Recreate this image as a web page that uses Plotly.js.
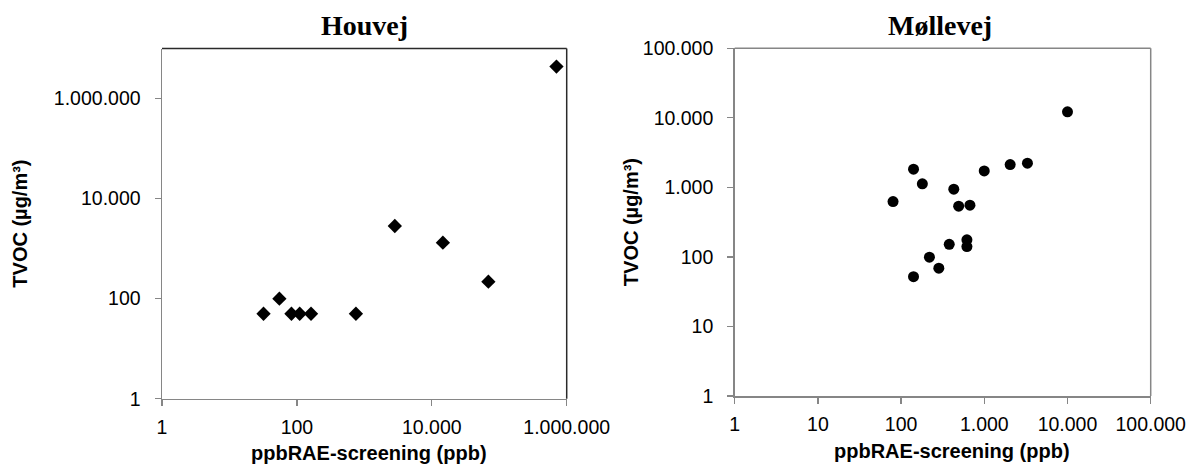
<!DOCTYPE html>
<html>
<head>
<meta charset="utf-8">
<script src="https://cdn.plot.ly/plotly-3.0.1.min.js"></script>
<style>html,body{margin:0;padding:0;background:#fff;}#chart{width:1188px;height:471px;}</style>
</head>
<body>
<div id="chart"></div>
<script>
// Houvej data (ppbRAE-screening ppb vs TVOC µg/m³)
const houvejX = [32, 55, 83, 110, 162, 750, 2830, 14600, 69000, 705000];
const houvejY = [50, 100, 50, 50, 50, 50, 2840, 1318, 219, 4370000];

// Møllevej data
const mollevejX = [80, 141, 180, 430, 492, 672, 998, 2046, 3300, 10000, 141, 219, 284, 379, 618, 618];
const mollevejY = [625, 1828, 1124, 942, 536, 555, 1727, 2130, 2230, 12200, 52, 99, 69, 152, 176, 141];

// tick labels
const leftTickVals = [1, 100, 10000, 1000000];
const leftTickText = ["1", "100", "10.000", "1.000.000"];
const rightTickVals = [1, 10, 100, 1000, 10000, 100000];
const rightTickText = ["1", "10", "100", "1.000", "10.000", "100.000"];

const titleLeft = "Houvej";
const titleRight = "Møllevej";
const xTitle = "ppbRAE-screening (ppb)";
const yTitle = "TVOC (µg/m³)";

const tickFont = {family: "Liberation Sans, Arial, sans-serif", size: 19.5, color: "#000"};
const axisGray = "#868686";

function axisBase(vals, text, range, domain, anchor, standoff) {
  return {
    type: "log", range: range, domain: domain, anchor: anchor,
    tickmode: "array", tickvals: vals, ticktext: text,
    ticks: "outside", ticklen: 6, tickwidth: 1.3, tickcolor: axisGray,
    ticklabelstandoff: standoff,
    showline: true, linecolor: axisGray, linewidth: 1.5,
    showgrid: false, zeroline: false, tickfont: tickFont, fixedrange: true
  };
}

const data = [
  {x: houvejX, y: houvejY, xaxis: "x", yaxis: "y", type: "scatter", mode: "markers",
   marker: {symbol: "diamond", size: 11, color: "#000"}, showlegend: false, cliponaxis: false},
  {x: mollevejX, y: mollevejY, xaxis: "x2", yaxis: "y2", type: "scatter", mode: "markers",
   marker: {symbol: "circle", size: 11, color: "#000"}, showlegend: false, cliponaxis: false}
];

const L = [162/1188, 566.7/1188];
const R = [734.7/1188, 1150.7/1188];
const YL = [1 - 398.7/471, 1 - 48.6/471];
const YR = [1 - 396/471, 1 - 48.3/471];

const annFontTitle = {family: "Liberation Serif, DejaVu Serif, serif", size: 28, color: "#000"};
const annFontAxis = {family: "Liberation Sans, Arial, sans-serif", size: 20, color: "#000"};

const layout = {
  width: 1188, height: 471,
  margin: {l: 0, r: 0, t: 0, b: 0},
  paper_bgcolor: "#fff", plot_bgcolor: "#fff",
  xaxis: axisBase(leftTickVals, leftTickText, [0, 6], L, "y", 4),
  yaxis: axisBase(leftTickVals, leftTickText, [0, 7], YL, "x", 10),
  xaxis2: axisBase(rightTickVals, rightTickText, [0, 5], R, "y2", 4),
  yaxis2: axisBase(rightTickVals, rightTickText, [0, 5], YR, "x2", 10),
  shapes: [
    {type: "line", xref: "x domain", yref: "y domain", x0: 0, x1: 1, y0: 1, y1: 1, line: {color: "#2a2a2a", width: 1.5}},
    {type: "line", xref: "x domain", yref: "y domain", x0: 1, x1: 1, y0: 0, y1: 1, line: {color: "#2a2a2a", width: 1.5}},
    {type: "line", xref: "x2 domain", yref: "y2 domain", x0: 0, x1: 1, y0: 1, y1: 1, line: {color: axisGray, width: 1.5}},
    {type: "line", xref: "x2 domain", yref: "y2 domain", x0: 1, x1: 1, y0: 0, y1: 1, line: {color: axisGray, width: 1.5}}
  ],
  annotations: [
    {text: "<b>" + titleLeft + "</b>", xref: "paper", yref: "paper", x: 364.5/1188, y: 1 - 26/471, showarrow: false, font: annFontTitle, xanchor: "center", yanchor: "middle"},
    {text: "<b>" + titleRight + "</b>", xref: "paper", yref: "paper", x: 940/1188, y: 1 - 26/471, showarrow: false, font: annFontTitle, xanchor: "center", yanchor: "middle"},
    {text: "<b>" + xTitle + "</b>", xref: "paper", yref: "paper", x: 369/1188, y: 1 - 453/471, showarrow: false, font: annFontAxis, xanchor: "center", yanchor: "middle"},
    {text: "<b>" + xTitle + "</b>", xref: "paper", yref: "paper", x: 952/1188, y: 1 - 451/471, showarrow: false, font: annFontAxis, xanchor: "center", yanchor: "middle"},
    {text: "<b>" + yTitle + "</b>", xref: "paper", yref: "paper", x: 20/1188, y: (YL[0]+YL[1])/2, textangle: -90, showarrow: false, font: annFontAxis, xanchor: "center", yanchor: "middle"},
    {text: "<b>" + yTitle + "</b>", xref: "paper", yref: "paper", x: 631/1188, y: (YR[0]+YR[1])/2, textangle: -90, showarrow: false, font: annFontAxis, xanchor: "center", yanchor: "middle"}
  ]
};

Plotly.newPlot("chart", data, layout, {displayModeBar: false, staticPlot: true});
</script>
</body>
</html>
